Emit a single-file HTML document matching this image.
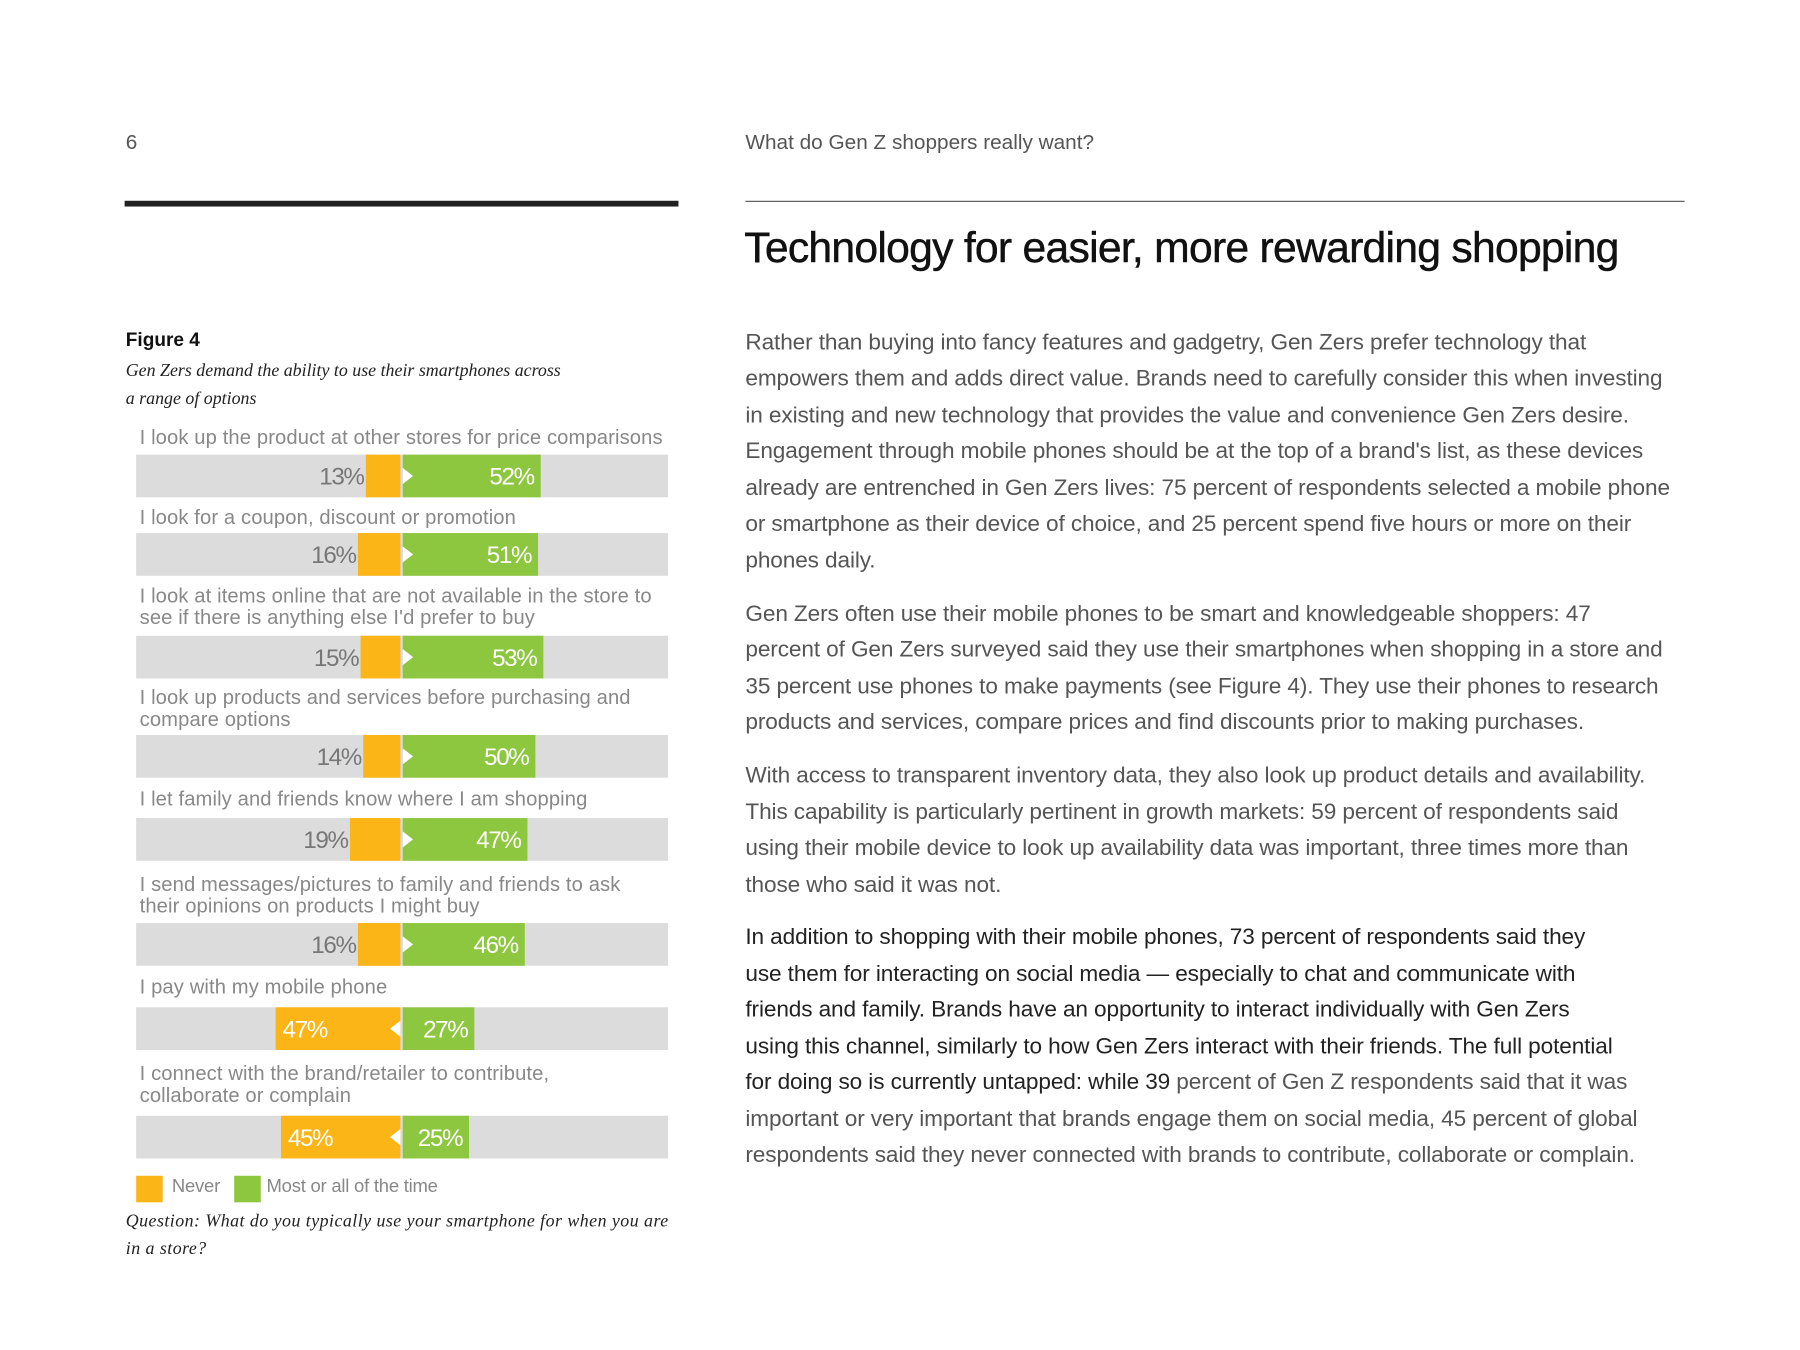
<!DOCTYPE html>
<html><head><meta charset="utf-8">
<style>
html,body{margin:0;padding:0;background:#fff;}
body{width:1800px;height:1350px;overflow:hidden;position:relative;}
#wrap{position:absolute;left:0;top:0;width:1560px;height:1170px;transform:scale(1.153846);transform-origin:0 0;font-family:"Liberation Sans",sans-serif;}
.abs{position:absolute;white-space:nowrap;}
.line{position:absolute;left:646px;font-size:19.6px;letter-spacing:-0.1px;color:#555;white-space:nowrap;line-height:22px;}
.dark{color:#222;}
.lbl{position:absolute;left:121px;font-size:17.5px;letter-spacing:0.1px;color:#888;white-space:nowrap;line-height:19px;}
</style></head><body>
<div id="wrap">
<div class="abs" style="left:109px;top:113px;font-size:18px;color:#555;">6</div>
<div class="abs" style="left:646px;top:113px;font-size:18px;color:#555;letter-spacing:0px;">What do Gen Z shoppers really want?</div>
<div class="abs" style="left:108px;top:174px;width:480px;height:5px;background:#222;"></div>
<div class="abs" style="left:646px;top:174px;width:814px;height:1px;background:#555;"></div>
<div class="abs" style="left:645px;top:194px;font-size:37px;letter-spacing:-0.65px;color:#111;-webkit-text-stroke:0.4px #111;">Technology for easier, more rewarding shopping</div>

<div class="abs" style="left:109px;top:286px;font-size:16.5px;font-weight:bold;color:#111;">Figure 4</div>
<div class="abs" style="left:109px;top:310px;font-family:'Liberation Serif',serif;font-style:italic;font-size:15.5px;line-height:24px;color:#222;">Gen Zers demand the ability to use their smartphones across<br>a range of options</div>

<div>
<div class="lbl" style="top:370px">I look up the product at other stores for price comparisons</div>
<div class="lbl" style="top:439px">I look for a coupon, discount or promotion</div>
<div class="lbl" style="top:507px">I look at items online that are not available in the store to<br>see if there is anything else I'd prefer to buy</div>
<div class="lbl" style="top:595px">I look up products and services before purchasing and<br>compare options</div>
<div class="lbl" style="top:683px">I let family and friends know where I am shopping</div>
<div class="lbl" style="top:757px">I send messages/pictures to family and friends to ask<br>their opinions on products I might buy</div>
<div class="lbl" style="top:846px">I pay with my mobile phone</div>
<div class="lbl" style="top:921px">I connect with the brand/retailer to contribute,<br>collaborate or complain</div>
</div>

<svg id="chart" style="position:absolute;left:0;top:0;" width="1560" height="1170"></svg>

<div>
<div class="abs" style="left:118px;top:1019px;width:23px;height:23px;background:#FBB516;"></div>
<div class="abs" style="left:149px;top:1020px;font-size:16px;color:#888;letter-spacing:-0.2px;">Never</div>
<div class="abs" style="left:203px;top:1019px;width:23px;height:23px;background:#8DC63F;"></div>
<div class="abs" style="left:231px;top:1020px;font-size:16px;color:#888;letter-spacing:-0.2px;">Most or all of the time</div>
</div>
<div class="abs" style="left:109px;top:1047px;font-family:'Liberation Serif',serif;font-style:italic;font-size:15.5px;line-height:24px;letter-spacing:0.4px;color:#222;">Question: What do you typically use your smartphone for when you are<br>in a store?</div>

<div class="body">
<div class="line" style="top:286px">Rather than buying into fancy features and gadgetry, Gen Zers prefer technology that</div>
<div class="line" style="top:317px">empowers them and adds direct value. Brands need to carefully consider this when investing</div>
<div class="line" style="top:349px">in existing and new technology that provides the value and convenience Gen Zers desire.</div>
<div class="line" style="top:380px">Engagement through mobile phones should be at the top of a brand's list, as these devices</div>
<div class="line" style="top:412px">already are entrenched in Gen Zers lives: 75 percent of respondents selected a mobile phone</div>
<div class="line" style="top:443px">or smartphone as their device of choice, and 25 percent spend five hours or more on their</div>
<div class="line" style="top:475px">phones daily.</div>
<div class="line" style="top:521px">Gen Zers often use their mobile phones to be smart and knowledgeable shoppers: 47</div>
<div class="line" style="top:552px">percent of Gen Zers surveyed said they use their smartphones when shopping in a store and</div>
<div class="line" style="top:584px">35 percent use phones to make payments (see Figure 4). They use their phones to research</div>
<div class="line" style="top:615px">products and services, compare prices and find discounts prior to making purchases.</div>
<div class="line" style="top:661px">With access to transparent inventory data, they also look up product details and availability.</div>
<div class="line" style="top:693px">This capability is particularly pertinent in growth markets: 59 percent of respondents said</div>
<div class="line" style="top:724px">using their mobile device to look up availability data was important, three times more than</div>
<div class="line" style="top:756px">those who said it was not.</div>
<div class="line dark" style="top:801px">In addition to shopping with their mobile phones, 73 percent of respondents said they</div>
<div class="line dark" style="top:833px">use them for interacting on social media — especially to chat and communicate with</div>
<div class="line dark" style="top:864px">friends and family. Brands have an opportunity to interact individually with Gen Zers</div>
<div class="line dark" style="top:896px">using this channel, similarly to how Gen Zers interact with their friends. The full potential</div>
<div class="line" style="top:927px"><span class="dark">for doing so is currently untapped: while 39</span> percent of Gen Z respondents said that it was</div>
<div class="line" style="top:959px">important or very important that brands engage them on social media, 45 percent of global</div>
<div class="line" style="top:990px">respondents said they never connected with brands to contribute, collaborate or complain.</div>
</div>
</div>
<script>
const categories=["price-comparison","coupon","items-online","research","tell-family","send-messages","pay-mobile","connect-brand"];
const neverValues=[13,16,15,14,19,16,47,45];
const mostValues=[52,51,53,50,47,46,27,25];
const svg=document.getElementById('chart');
const NS='http://www.w3.org/2000/svg';
const barTops=[394,462,551,637,709,800,873,967];
const BAR_H=37,LEFT=118,RIGHT=579,MID_O=347,MID_G=349,PX=2.3;
const xNever=v=>MID_O-v*PX;
const xMost=v=>MID_G+v*PX;
function el(t,a){const e=document.createElementNS(NS,t);for(const k in a)e.setAttribute(k,a[k]);svg.appendChild(e);return e;}
categories.forEach((c,i)=>{
  const y=barTops[i],n=neverValues[i],m=mostValues[i];
  const bg=el('rect',{x:LEFT,y:y,width:RIGHT-LEFT,height:BAR_H,fill:'#DCDCDD'});
  
  
  const ro=el('rect',{x:xNever(n),y:y,width:MID_O-xNever(n),height:BAR_H,fill:'#FBB516'});
  
  
  const rg=el('rect',{x:MID_G,y:y,width:xMost(m)-MID_G,height:BAR_H,fill:'#8DC63F'});
  
  
  const cy=y+BAR_H/2;
  let tri;
  if(m>=n){tri=el('polygon',{points:`${MID_G},${cy-7} ${MID_G+9},${cy} ${MID_G},${cy+7}`,fill:'#fff'});}
  else{tri=el('polygon',{points:`${MID_O},${cy-7} ${MID_O-9},${cy} ${MID_O},${cy+7}`,fill:'#fff'});}
  
  
  let tn;
  if(n<30){tn=el('text',{x:xNever(n)-2,y:cy+7.5,'text-anchor':'end',fill:'#777','font-size':21,'letter-spacing':'-1.2','font-family':'Liberation Sans, sans-serif'});}
  else{tn=el('text',{x:xNever(n)+6,y:cy+7.5,'text-anchor':'start',fill:'#fff','font-size':21,'letter-spacing':'-1.2','font-family':'Liberation Sans, sans-serif'});}
  tn.textContent=n+'%';
  
  
  const tg=el('text',{x:xMost(m)-6,y:cy+7.5,'text-anchor':'end',fill:'#fff','font-size':21,'letter-spacing':'-1.2','font-family':'Liberation Sans, sans-serif'});
  tg.textContent=m+'%';
  
  
});
</script>
</body></html>
